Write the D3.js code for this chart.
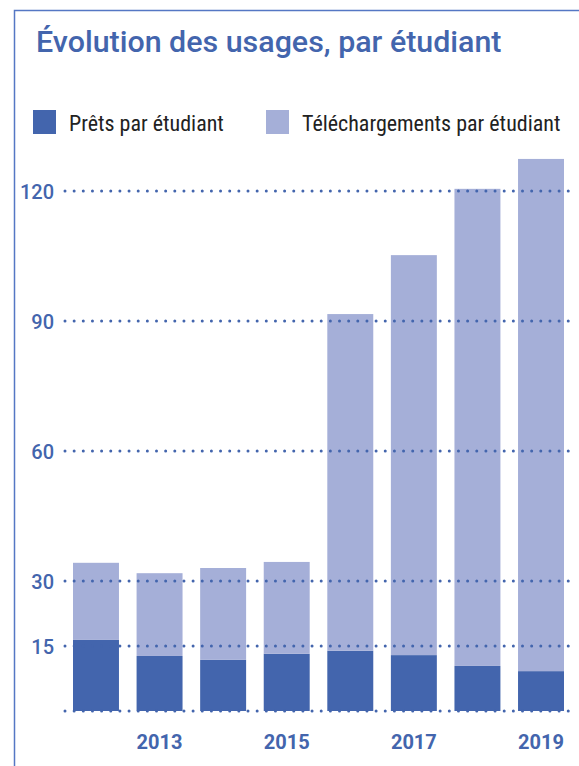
<!DOCTYPE html>
<html>
<head>
<meta charset="utf-8">
<script src="https://cdn.jsdelivr.net/npm/d3@7"></script>
<style>
  body { margin: 0; background: #fff; }
  svg { display: block; }
</style>
</head>
<body>
<div id="chart"></div>
<script>
// données
const years = [ 2012, 2013, 2014, 2015, 2016, 2017, 2018, 2019 ];
const prets = [ 16.4, 12.7, 11.8, 13.2, 13.9, 12.9, 10.4, 9.2 ];
const telechargements = [ 17.8, 19.1, 21.2, 21.2, 77.7, 92.3, 110.1, 118.2 ];
const yTicks = [ 0, 15, 30, 60, 90, 120 ];
const xLabels = [ 2013, 2015, 2017, 2019 ];

const width = 579, height = 766,
	blue = '#4365ad',
	lightBlue = '#a5afd8',
	border = '#5577c4';

const svg = d3.select( '#chart' )
	.append( 'svg' )
	.attr( 'width', width )
	.attr( 'height', height );

// cadre (haut + gauche)
svg.append( 'path' )
	.attr( 'd', `M14.5,${height} V10.5 H${width}` )
	.attr( 'fill', 'none' )
	.attr( 'stroke', border )
	.attr( 'stroke-width', 1.5 );

// titre
svg.append( 'text' )
	.attr( 'x', 36 )
	.attr( 'y', 52 )
	.attr( 'font-family', 'Roboto' )
	.attr( 'font-weight', 500 )
	.attr( 'font-size', '30.4px' )
	.attr( 'fill', blue )
	.text( 'Évolution des usages, par étudiant' );

// légende
const legend = [
	{ label: 'Prêts par étudiant', color: blue, x: 33 },
	{ label: 'Téléchargements par étudiant', color: lightBlue, x: 266 }
];
const lg = svg.selectAll( 'g.legend' ).data( legend ).enter()
	.append( 'g' )
	.attr( 'class', 'legend' )
	.attr( 'transform', d => `translate(${d.x},110)` );
lg.append( 'rect' )
	.attr( 'width', 23 )
	.attr( 'height', 24 )
	.attr( 'fill', d => d.color );
lg.append( 'text' )
	.attr( 'x', 36 )
	.attr( 'y', 21 )
	.attr( 'font-family', '"Roboto Condensed", "Liberation Sans Narrow", "DejaVu Sans Condensed", sans-serif' )
	.attr( 'font-stretch', 'condensed' )
	.attr( 'font-size', '22px' )
	.attr( 'fill', '#222' )
	.text( d => d.label );

// échelles
const x = d3.scaleBand()
	.domain( years )
	.range( [ 73, 564 ] )
	.paddingInner( 0.277 )
	.paddingOuter( 0 );

const y = d3.scaleLinear()
	.domain( [ 0, 120 ] )
	.range( [ 711, 191 ] );

const stackData = years.map( ( yr, i ) => ( { year: yr, prets: prets[i], telechargements: telechargements[i] } ) );
const series = d3.stack().keys( [ 'prets', 'telechargements' ] )( stackData );
const colors = { prets: blue, telechargements: lightBlue };

svg.append( 'g' )
	.selectAll( 'g' )
	.data( series )
	.enter()
	.append( 'g' )
	.attr( 'fill', d => colors[d.key] )
	.selectAll( 'rect' )
	.data( d => d )
	.enter()
	.append( 'rect' )
	.attr( 'x', d => x( d.data.year ) )
	.attr( 'y', d => y( d[1] ) )
	.attr( 'width', x.bandwidth() )
	.attr( 'height', d => y( d[0] ) - y( d[1] ) );

// grille pointillée par-dessus les barres
svg.append( 'g' )
	.selectAll( 'line' )
	.data( yTicks )
	.enter()
	.append( 'line' )
	.attr( 'x1', 65 )
	.attr( 'x2', 569 )
	.attr( 'y1', d => y( d ) )
	.attr( 'y2', d => y( d ) )
	.attr( 'stroke', blue )
	.attr( 'stroke-width', 3 )
	.attr( 'stroke-linecap', 'round' )
	.attr( 'stroke-dasharray', '0 9.15' );

// axe Y
const yAxis = svg.append( 'g' )
	.attr( 'transform', 'translate(54,0)' )
	.call( d3.axisLeft( y ).tickValues( yTicks.filter( d => d > 0 ) ).tickSize( 0 ).tickPadding( 0 ) );
yAxis.select( '.domain' ).remove();
yAxis.selectAll( 'text' )
	.attr( 'font-family', 'Roboto' )
	.attr( 'font-weight', 500 )
	.attr( 'font-size', '20px' )
	.attr( 'fill', blue )
	.attr( 'dy', '0.36em' );

// axe X
const xAxis = svg.append( 'g' )
	.attr( 'transform', 'translate(0,711)' )
	.call( d3.axisBottom( x ).tickValues( xLabels ).tickSize( 0 ).tickPadding( 0 ) );
xAxis.select( '.domain' ).remove();
xAxis.selectAll( 'text' )
	.attr( 'font-family', 'Roboto' )
	.attr( 'font-weight', 700 )
	.attr( 'font-size', '20px' )
	.attr( 'fill', blue )
	.attr( 'y', 38 )
	.attr( 'dy', 0 );
</script>
</body>
</html>
